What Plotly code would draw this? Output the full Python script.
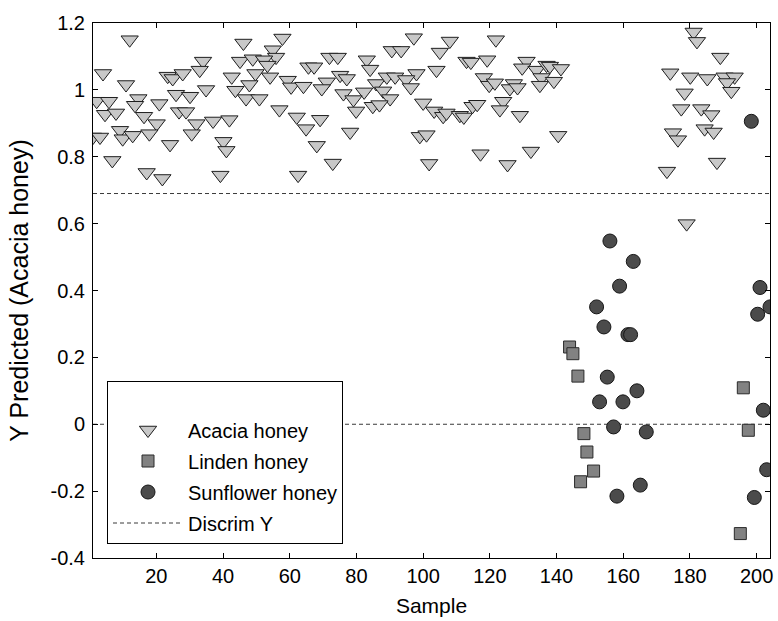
import plotly.graph_objects as go

# ---------------- data ----------------
acacia_x = [12.0, 4.0, 10.9, 23.4, 24.9, 27.9, 2.1, 5.8, 4.6, 7.9, 14.6, 13.6, 16.3, 20.9, 25.9, 30.1,
            26.8, 28.9, 20.1, 32.0, 1.0, 3.1, 9.1, 9.9, 12.9, 17.9, 24.1, 30.6, 6.8, 17.1, 21.8,
            46.1, 57.8, 54.9, 55.9, 45.1, 48.9, 52.3, 53.3, 34.0, 33.0, 34.9, 42.6, 49.7, 54.1,
            47.9, 43.7, 46.9, 50.9, 59.4, 60.4, 56.9, 62.1, 37.0, 41.9, 40.1, 41.0, 39.2, 62.5,
            71.9, 74.4, 83.1, 84.1, 90.6, 65.6, 67.3, 75.1, 77.1, 85.9, 89.1, 91.6, 64.1, 71.1,
            69.6, 76.1, 82.3, 79.1, 88.0, 90.1, 84.9, 86.9, 79.9, 69.1, 64.9, 78.1, 68.1, 72.9,
            97.2, 108.0, 121.8, 105.0, 93.4, 113.0, 114.3, 119.2, 104.0, 98.0, 94.9, 96.3, 118.2,
            119.8, 121.5, 100.0, 103.3, 106.0, 107.0, 111.0, 112.2, 114.8, 116.2, 99.0, 101.0,
            117.2, 101.8,
            131.0, 129.7, 134.0, 137.0, 138.0, 141.3, 135.5, 135.0, 139.2, 127.2, 126.0, 128.3,
            124.0, 123.0, 129.0, 140.5, 132.3, 125.3,
            181.1, 182.1, 189.1, 174.1, 180.1, 185.2, 190.4, 193.4, 191.1, 192.4, 178.4, 177.4,
            183.4, 186.4, 184.4, 187.1, 174.9, 176.4, 188.1, 173.1, 179.0]
acacia_y = [1.150, 1.049, 1.016, 1.041, 1.034, 1.049, 0.966, 0.966, 0.927, 0.931, 0.974, 0.954, 0.921,
            0.959, 0.987, 0.981, 0.935, 0.935, 0.899, 0.899, 0.859, 0.859, 0.879, 0.854, 0.864, 0.869,
            0.837, 0.869, 0.789, 0.753, 0.735,
            1.140, 1.155, 1.120, 1.098, 1.086, 1.093, 1.090, 1.074, 1.086, 1.059, 1.001, 1.039, 1.049,
            1.039, 1.016, 0.999, 0.974, 0.974, 1.029, 1.009, 0.941, 0.919, 0.907, 0.911, 0.846, 0.819,
            0.745, 0.745,
            1.098, 1.098, 1.090, 1.062, 1.118, 1.069, 1.069, 1.044, 1.034, 1.019, 1.039, 1.039, 1.011,
            1.024, 1.004, 0.989, 0.994, 0.971, 0.997, 0.974, 0.951, 0.956, 0.937, 0.912, 0.884, 0.874,
            0.834, 0.781,
            1.156, 1.146, 1.150, 1.113, 1.118, 1.086, 1.083, 1.090, 1.059, 1.049, 1.031, 1.007, 1.037,
            1.014, 1.021, 0.961, 0.937, 0.921, 0.931, 0.924, 0.919, 0.951, 0.957, 0.861, 0.866, 0.809,
            0.780,
            1.086, 1.066, 1.059, 1.074, 1.071, 1.064, 1.037, 1.014, 1.026, 1.019, 1.004, 1.007, 0.966,
            0.941, 0.924, 0.864, 0.817, 0.777,
            1.173, 1.145, 1.098, 1.051, 1.039, 1.034, 1.039, 1.039, 1.022, 0.996, 0.991, 0.944, 0.944,
            0.926, 0.884, 0.874, 0.872, 0.851, 0.784, 0.757, 0.600]

linden_x = [143.9, 144.9, 146.4, 148.2, 149.1, 151.1, 147.2, 196.0, 197.5, 195.1]
linden_y = [0.231, 0.211, 0.144, -0.028, -0.083, -0.140, -0.172, 0.109, -0.018, -0.327]

sunflower_x = [156.0, 163.0, 158.9, 152.0, 154.2, 161.4, 162.2, 155.2, 164.1, 152.9, 159.9, 157.1,
               166.9, 165.1, 158.1, 201.0, 204.0, 200.3, 202.0, 203.0, 199.3, 198.4]
sunflower_y = [0.548, 0.487, 0.413, 0.351, 0.291, 0.268, 0.268, 0.141, 0.100, 0.067, 0.067, -0.008,
               -0.023, -0.182, -0.215, 0.409, 0.351, 0.329, 0.042, -0.136, -0.219, 0.906]

discrim_levels = [0.69, 0.0]
x_range = [1, 204]
y_range = [-0.4, 1.2]

x_ticks = [20, 40, 60, 80, 100, 120, 140, 160, 180, 200]
y_ticks = [-0.4, -0.2, 0, 0.2, 0.4, 0.6, 0.8, 1.0, 1.2]
y_tick_labels = ["-0.4", "-0.2", "0", "0.2", "0.4", "0.6", "0.8", "1", "1.2"]

FONT = "Liberation Sans, Arial, sans-serif"

# ---------------- figure ----------------
fig = go.Figure()

line_x, line_y = [], []
for lv in discrim_levels:
    line_x += [x_range[0], x_range[1], None]
    line_y += [lv, lv, None]

fig.add_trace(go.Scatter(
    x=line_x, y=line_y, mode="lines", name="Discrim Y",
    line=dict(color="#3a3a3a", width=1, dash="4px,3px"),
    legendrank=4, legendgroup="d", hoverinfo="skip"))

fig.add_trace(go.Scatter(
    x=acacia_x, y=acacia_y, mode="markers", name="Acacia honey",
    marker=dict(symbol="triangle-down", size=15, color="#c8c8c8",
                line=dict(color="#1e1e1e", width=1)),
    legendrank=1, legendgroup="a"))

fig.add_trace(go.Scatter(
    x=linden_x, y=linden_y, mode="markers", name="Linden honey",
    marker=dict(symbol="square", size=12, color="#828282",
                line=dict(color="#2a2a2a", width=1)),
    legendrank=2, legendgroup="l"))

fig.add_trace(go.Scatter(
    x=sunflower_x, y=sunflower_y, mode="markers", name="Sunflower honey",
    marker=dict(symbol="circle", size=14, color="#4b4b4b",
                line=dict(color="#161616", width=1)),
    legendrank=3, legendgroup="s"))

axis_common = dict(
    showline=True, linecolor="black", linewidth=1, mirror="ticks",
    ticks="inside", ticklen=5, tickcolor="black", showgrid=False, zeroline=False,
    tickfont=dict(family=FONT, size=20, color="black"),
)

fig.update_xaxes(range=x_range, tickvals=x_ticks, automargin=False,
                 title=dict(text="Sample", font=dict(family=FONT, size=21, color="black"), standoff=12),
                 **axis_common)
fig.update_yaxes(range=y_range, tickvals=y_ticks, ticktext=y_tick_labels, ticklabelstandoff=3,
                 title=dict(text="Y Predicted (Acacia honey)", font=dict(family=FONT, size=25, color="black"),
                            standoff=14),
                 **axis_common)

fig.update_layout(
    width=778, height=621,
    margin=dict(l=93, r=8, t=23, b=63),
    paper_bgcolor="white", plot_bgcolor="white",
    font=dict(family=FONT, size=20, color="black"),
    showlegend=True,
    legend=dict(x=0.0207, y=0.331, xanchor="left", yanchor="top",
                bordercolor="black", borderwidth=1, bgcolor="white",
                font=dict(family=FONT, size=20, color="black"),
                title=dict(text=" ", font=dict(size=22)),
                traceorder="grouped", tracegroupgap=2, itemwidth=70,
                entrywidth=220),
)

fig.write_html("out.html")
